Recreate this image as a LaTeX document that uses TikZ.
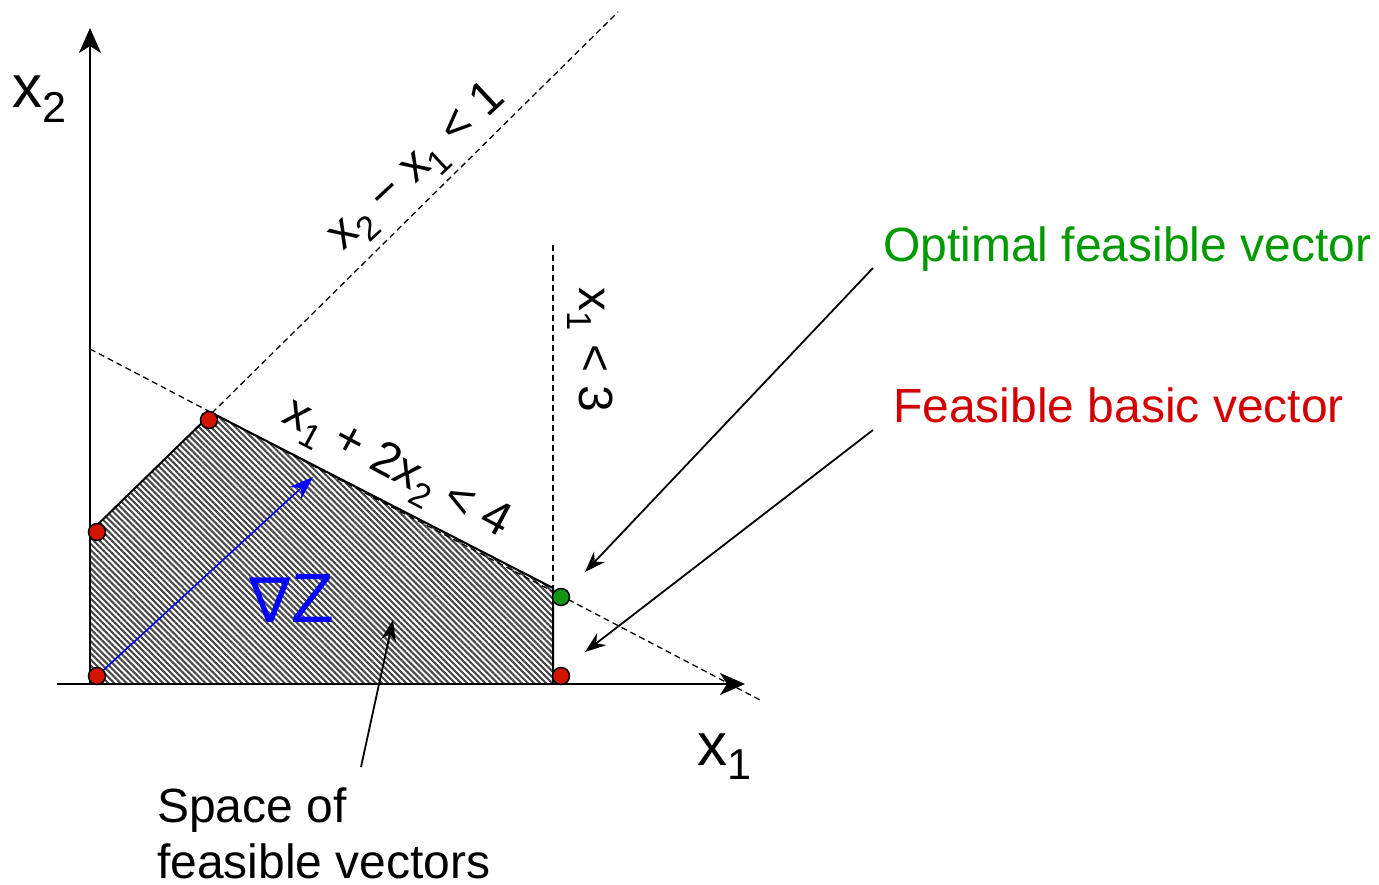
\documentclass[tikz,border=0pt]{standalone}
\usepackage{graphicx}
\usepackage{fontspec}
\setmainfont{Liberation Sans}
\newfontfamily\dejavu{DejaVu Sans}
\usetikzlibrary{arrows.meta,patterns.meta}
\definecolor{feasred}{RGB}{210,20,0}
\definecolor{optgreen}{RGB}{20,150,20}
\definecolor{txtred}{RGB}{210,0,0}
\definecolor{txtgreen}{RGB}{0,153,0}
\definecolor{gradblue}{RGB}{0,0,255}
\newcommand{\sbs}[1]{\raisebox{-0.24em}{\scalebox{0.72}{#1}}}
\begin{document}
\begin{tikzpicture}[x=1pt,y=-1pt,
  axis/.style={line width=2pt,-{Stealth[length=25pt,width=22pt,inset=7pt]}},
  bnd/.style={dash pattern=on 6pt off 4pt,line width=1.3pt},
  ptr/.style={line width=1.8pt,-{Stealth[length=21pt,width=15pt]}},
  gradarrow/.style={gradblue,line width=1.5pt,-{Stealth[length=24pt,width=17pt]}},
  vtx/.style={circle,draw=black,line width=1.5pt,inner sep=0pt,minimum size=17pt},
  lbl/.style={font=\fontsize{48}{56}\selectfont,inner sep=0pt},
  axlbl/.style={font=\fontsize{60}{66}\selectfont,inner sep=0pt},
  region/.style={pattern={Lines[angle=-45,distance=4.3pt,line width=2.1pt]},pattern color=black!72}
]
\useasboundingbox (0,0) rectangle (1379,885);

% polygon corners
\coordinate (O) at (90,684);
\coordinate (A) at (90,532);
\coordinate (B) at (212,413);
\coordinate (C) at (553,588);
\coordinate (D) at (553,684);

\fill[region] (O) -- (A) -- (B) -- (C) -- (D) -- cycle;
\draw[line width=2pt,line join=round] (A) -- (B) -- (C) -- (D);

% constraint lines
\coordinate (L1s) at (90,349);
\coordinate (L1e) at (762,701);
\draw[bnd] (L1s) -- (L1e);
\coordinate (L2e) at (618,12);
\draw[bnd] (B) -- (L2e);
\coordinate (L3s) at (553,245);
\draw[bnd] (L3s) -- (C);

% axes
\coordinate (xs) at (57,684);
\coordinate (xe) at (745,684);
\coordinate (ye) at (90,28);
\draw[axis] (xs) -- (xe);
\draw[axis] (O) -- (ye);

% vertices
\node[vtx,fill=feasred] (v0) at (97,676) {};
\node[vtx,fill=feasred] (v1) at (97,532) {};
\node[vtx,fill=feasred] (v2) at (209,420) {};
\node[vtx,fill=optgreen] (v3) at (561,597) {};
\node[vtx,fill=feasred] (v4) at (561,676) {};

% gradient
\coordinate (gtip) at (313,477);
\draw[gradarrow] (v0) -- (gtip);
\node[inner sep=0pt,text=gradblue] (grad) at (292,598)
  {{\dejavu\fontsize{62}{62}\selectfont\char"2207}{\fontsize{70}{70}\selectfont Z}};

% axis labels
\node[axlbl,anchor=base west] (x2lbl) at (12,108) {x\sbs{2}};
\node[axlbl,anchor=base west] (x1lbl) at (697,765) {x\sbs{1}};

% constraint labels
\node[lbl,rotate=43] (c1) at (418,168) {x\sbs{2} \char"2212{} x\sbs{1} < 1};
\node[lbl,rotate=-28] (c2) at (396,470) {x\sbs{1} + 2x\sbs{2} < 4};
\node[lbl,rotate=-90] (c3) at (590,350) {x\sbs{1} < 3};

% legend texts
\node[lbl,anchor=base west,text=txtgreen] (opt) at (883,262) {Optimal feasible vector};
\node[lbl,anchor=base west,text=txtred] (fbv) at (893,422) {Feasible basic vector};
\node[lbl,anchor=base west,align=left] (space) at (157,878) {Space of\\feasible vectors};

% pointer arrows
\coordinate (p1s) at (873,268);
\coordinate (p1e) at (585,572);
\coordinate (p2s) at (873,430);
\coordinate (p2e) at (585,652);
\coordinate (p3s) at (361,767);
\coordinate (p3e) at (393,620);
\draw[ptr] (p1s) -- (p1e);
\draw[ptr] (p2s) -- (p2e);
\draw[ptr] (p3s) -- (p3e);
\end{tikzpicture}
\end{document}
